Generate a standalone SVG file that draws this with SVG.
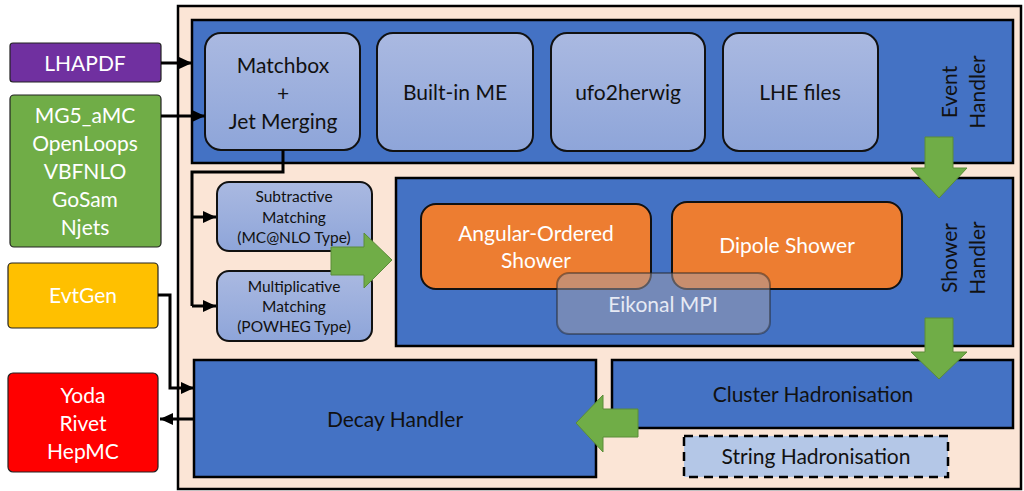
<svg xmlns="http://www.w3.org/2000/svg" width="1024" height="491" viewBox="0 0 1024 491">
<defs>
<linearGradient id="lg" x1="0" y1="0" x2="0" y2="1">
<stop offset="0" stop-color="#AAB9E1"/>
<stop offset="1" stop-color="#8EA5D9"/>
</linearGradient>
<marker id="ah" markerUnits="userSpaceOnUse" markerWidth="14" markerHeight="14" viewBox="0 0 14 14" refX="13" refY="7" orient="auto">
<path d="M0,1 L13,7 L0,13 Z" fill="#000"/>
</marker>
<style>
text{font-family:Lato,"Liberation Sans",sans-serif;text-anchor:middle}
.t{font-size:21px;fill:#111}
.w{font-size:21px;fill:#fff}
.s{font-size:15.5px;fill:#111}
.lb{fill:url(#lg);stroke:#111;stroke-width:2}
.hd{fill:#4472C4;stroke:#000;stroke-width:2.5}
.ext{stroke:#222;stroke-width:1.2}
.or{fill:#ED7D31;stroke:#111;stroke-width:2}
.ga{fill:#70AD47;stroke:#5A8C38;stroke-width:1}
.cn{fill:none;stroke:#000;stroke-width:3}
</style>
</defs>
<rect id="frame" x="178" y="6" width="843" height="483" fill="#FBE5D6" stroke="#000" stroke-width="2.5"/>

<g id="event-handler">
<rect class="hd" x="192" y="20" width="821" height="143"/>
<text class="t" transform="translate(957,92) rotate(-90)">Event</text>
<text class="t" transform="translate(985,92) rotate(-90)">Handler</text>
</g>
<g id="matchbox">
<rect class="lb" x="205" y="33" width="155" height="117" rx="16"/>
<text class="t" x="283" y="73">Matchbox</text>
<text class="t" x="283" y="101">+</text>
<text class="t" x="283" y="129">Jet Merging</text>
</g>
<g id="builtin-me">
<rect class="lb" x="377" y="33" width="156" height="118" rx="16"/>
<text class="t" x="455" y="100">Built-in ME</text>
</g>
<g id="ufo2herwig">
<rect class="lb" x="551" y="33" width="154" height="118" rx="16"/>
<text class="t" x="628" y="100">ufo2herwig</text>
</g>
<g id="lhe-files">
<rect class="lb" x="723" y="33" width="155" height="118" rx="16"/>
<text class="t" x="800" y="100">LHE files</text>
</g>

<g id="shower-handler">
<rect class="hd" x="396" y="178" width="617" height="168"/>
<text class="t" transform="translate(957,258) rotate(-90)">Shower</text>
<text class="t" transform="translate(985,258) rotate(-90)">Handler</text>
</g>
<g id="angular-ordered">
<rect class="or" x="421" y="204" width="230" height="85" rx="15"/>
<text class="w" x="536" y="241">Angular-Ordered</text>
<text class="w" x="536" y="268">Shower</text>
</g>
<g id="dipole-shower">
<rect class="or" x="672" y="202" width="230" height="87" rx="15"/>
<text class="w" x="787" y="253">Dipole Shower</text>
</g>
<g id="eikonal-mpi">
<rect x="557" y="273" width="213" height="61" rx="12" fill="#A3A0AC" fill-opacity="0.5" stroke="#222" stroke-opacity="0.45" stroke-width="2"/>
<text x="663" y="312" style="font-size:21px;fill:#E6EAF4">Eikonal MPI</text>
</g>

<g id="subtractive">
<rect class="lb" x="217" y="182" width="155" height="69" rx="12"/>
<text class="s" x="294" y="202">Subtractive</text>
<text class="s" x="294" y="223">Matching</text>
<text class="s" x="294" y="243">(MC@NLO Type)</text>
</g>
<g id="multiplicative">
<rect class="lb" x="217" y="271" width="155" height="70" rx="12"/>
<text class="s" x="294" y="292">Multiplicative</text>
<text class="s" x="294" y="312">Matching</text>
<text class="s" x="294" y="332">(POWHEG Type)</text>
</g>

<g id="decay-handler">
<rect class="hd" x="194" y="360" width="402" height="117"/>
<text class="t" x="395" y="427">Decay Handler</text>
</g>
<g id="cluster-hadronisation">
<rect class="hd" x="612" y="360" width="401" height="68"/>
<text class="t" x="813" y="402">Cluster Hadronisation</text>
</g>
<g id="string-hadronisation">
<rect x="684" y="436" width="264" height="41" fill="#B4C7E7" stroke="#000" stroke-width="2.5" stroke-dasharray="9,6"/>
<text class="t" x="816" y="464">String Hadronisation</text>
</g>

<g id="lhapdf">
<rect class="ext" x="10" y="43" width="151" height="39" rx="3" fill="#7030A0"/>
<text class="w" x="85" y="71">LHAPDF</text>
</g>
<g id="me-providers">
<rect class="ext" x="10" y="95" width="151" height="152" rx="4" fill="#70AD47"/>
<text class="w" x="85" y="123">MG5_aMC</text>
<text class="w" x="85" y="151">OpenLoops</text>
<text class="w" x="85" y="179">VBFNLO</text>
<text class="w" x="85" y="207">GoSam</text>
<text class="w" x="85" y="235">Njets</text>
</g>
<g id="evtgen">
<rect class="ext" x="8" y="263" width="150" height="65" rx="4" fill="#FFC000"/>
<text class="w" x="83" y="303">EvtGen</text>
</g>
<g id="analysis">
<rect class="ext" x="8" y="373" width="150" height="99" rx="5" fill="#FF0000"/>
<text class="w" x="83" y="403">Yoda</text>
<text class="w" x="83" y="431">Rivet</text>
<text class="w" x="83" y="459">HepMC</text>
</g>

<g id="connectors">
<path class="cn" d="M161,63 H192" marker-end="url(#ah)"/>
<path class="cn" d="M161,116 H205" marker-end="url(#ah)"/>
<path class="cn" d="M283,150 V172 H192 V306"/>
<path class="cn" d="M192,217 H216" marker-end="url(#ah)"/>
<path class="cn" d="M192,306 H216" marker-end="url(#ah)"/>
<path class="cn" d="M158,295 H170 V388 H194" marker-end="url(#ah)"/>
<path class="cn" d="M194,419 H160" marker-end="url(#ah)"/>
<path class="ga" d="M331,247 H364 V233 L392,260 L364,288 V275 H331 Z"/>
<path class="ga" d="M925,137 H953 V168 H967 L939,198 L911,168 H925 Z"/>
<path class="ga" d="M925,318 H953 V352 H967 L939,379 L911,352 H925 Z"/>
<path class="ga" d="M638,409 V437 H603 V452 L576,423 L603,395 V409 Z"/>
</g>
</svg>
